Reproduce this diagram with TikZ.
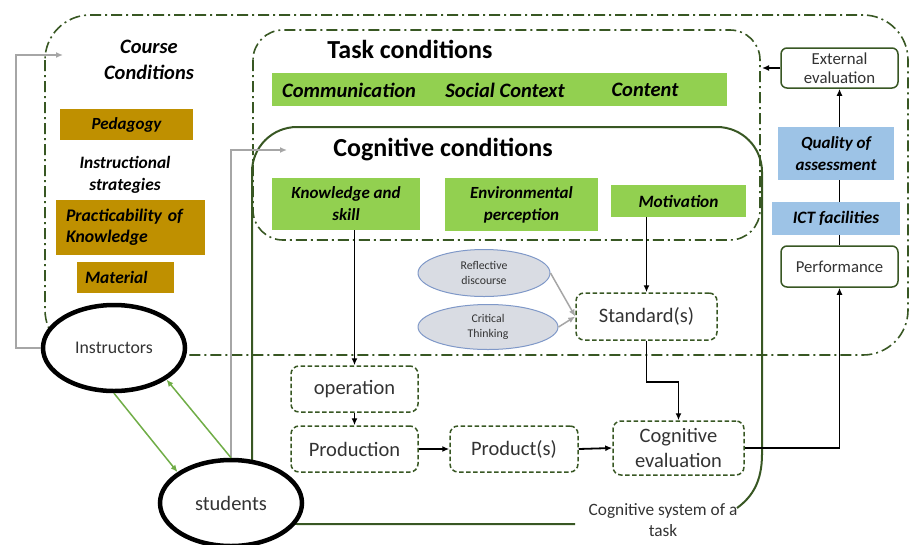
\documentclass[tikz,border=0pt]{standalone}
\usepackage{fontspec}
\setmainfont{Carlito}
\usetikzlibrary{arrows.meta,shapes.geometric,backgrounds}
\definecolor{dkgreen}{HTML}{385723}
\definecolor{goldfill}{HTML}{BF9000}
\definecolor{leafgreen}{HTML}{92D050}
\definecolor{skyblue}{HTML}{9DC3E6}
\definecolor{linkgreen}{HTML}{70AD47}
\definecolor{ovalfill}{HTML}{D9DCE3}
\definecolor{ovalline}{HTML}{7F98C8}
\definecolor{plaintext}{HTML}{333333}
\begin{document}
\begin{tikzpicture}[x=1pt,y=-1pt,
  dashdotline/.style={draw=dkgreen, line width=1.6pt, dash pattern=on 11pt off 4pt on 2pt off 4pt},
  cogline/.style={draw=dkgreen, line width=2pt},
  goldbox/.style={fill=goldfill, inner sep=0pt, font=\bfseries\itshape},
  greenbox/.style={fill=leafgreen, inner sep=0pt, align=center, font=\bfseries\itshape\fontsize{17}{22}\selectfont},
  bluebox/.style={fill=skyblue, inner sep=0pt, align=center, font=\bfseries\itshape},
  evalbox/.style={draw=dkgreen, line width=1.5pt, rounded corners=6pt, fill=white, inner sep=0pt, align=center, text=plaintext},
  stagebox/.style={draw=dkgreen, line width=1.5pt, dashed, dash pattern=on 4.5pt off 2.5pt, rounded corners=8pt, inner sep=0pt, align=center, text=plaintext, font=\fontsize{20.5}{25}\selectfont},
  oval/.style={ellipse, draw=ovalline, line width=1pt, fill=ovalfill, inner sep=0pt, align=center, text=plaintext, font=\fontsize{11.8}{15}\selectfont},
  actor/.style={ellipse, draw=black, line width=4.5pt, fill=white, inner sep=0pt, text=plaintext},
  flow/.style={draw=black, line width=1.8pt, -{Latex[length=7pt,width=6pt]}},
  grayflow/.style={draw=black!35, line width=1.5pt, -{Latex[length=7pt,width=6pt]}},
  linkflow/.style={draw=linkgreen, line width=1.5pt, -{Latex[length=7pt,width=6pt]}}
]
\useasboundingbox (0,0) rectangle (912,544);

% containers
\draw[dashdotline, rounded corners=45pt] (45,15) rectangle (908,355);
\draw[dashdotline, rounded corners=30pt] (253,30) rectangle (760,240);
\draw[cogline, rounded corners=45pt] (575,524) -- (252,524) -- (252,127) -- (762,127) -- (762,455);
\draw[cogline] (762,454) .. controls (762,482) and (752,497) .. (737,508);

% course conditions
\node[font=\bfseries\itshape\fontsize{20.5}{26}\selectfont, align=center] (coursettl) at (149,60) {Course\\Conditions};
\node[goldbox, minimum width=133pt, minimum height=31pt, font=\bfseries\itshape\fontsize{17}{20}\selectfont] (peda) at (126.5,124.5) {Pedagogy};
\node[font=\bfseries\itshape\fontsize{17.4}{22}\selectfont, align=center] (instrat) at (125,175) {Instructional\\strategies};
\node[goldbox, minimum width=149pt, minimum height=55pt, text width=129pt, align=left, font=\bfseries\itshape\fontsize{17.7}{21}\selectfont] (pract) at (130.5,227.5) {Practicability of\\Knowledge};
\node[goldbox, minimum width=97pt, minimum height=31pt, text width=81pt, align=left, font=\bfseries\itshape\fontsize{17.4}{20}\selectfont] (mater) at (125.5,277.5) {Material};

% task conditions
\node[font=\bfseries\fontsize{26}{30}\selectfont] (taskttl) at (410,49) {Task conditions};
\node[fill=leafgreen, minimum width=455pt, minimum height=33pt, inner sep=0pt] (taskbar) at (499.5,89.5) {};
\node[font=\bfseries\itshape\fontsize{20.5}{24}\selectfont] (comm) at (349,90) {Communication};
\node[font=\bfseries\itshape\fontsize{20.5}{24}\selectfont] (social) at (505,90) {Social Context};
\node[font=\bfseries\itshape\fontsize{20.5}{24}\selectfont] (content) at (645,90) {Content};

% cognitive conditions
\node[font=\bfseries\fontsize{26}{30}\selectfont] (cogttl) at (443,150) {Cognitive conditions};
\node[greenbox, minimum width=148pt, minimum height=52pt] (know) at (346,204) {Knowledge and\\skill};
\node[greenbox, minimum width=153pt, minimum height=53pt] (envir) at (521.5,204.5) {Environmental\\perception};
\node[greenbox, minimum width=135pt, minimum height=32pt, font=\bfseries\itshape\fontsize{17.3}{22}\selectfont] (motiv) at (678.5,201) {Motivation};

% external assessment column
\node[evalbox, minimum width=117pt, minimum height=40pt, font=\fontsize{16.8}{19}\selectfont] (ext) at (839.5,68) {External\\evaluation};
\node[bluebox, minimum width=116pt, minimum height=53pt, font=\bfseries\itshape\fontsize{17}{22}\selectfont] (quality) at (836,153.5) {Quality of\\assessment};
\node[bluebox, minimum width=128pt, minimum height=33pt, font=\bfseries\itshape\fontsize{17.4}{20}\selectfont] (ict) at (836,218.5) {ICT facilities};
\node[evalbox, minimum width=117pt, minimum height=41pt, font=\fontsize{16.7}{19}\selectfont] (perf) at (839.5,266.5) {Performance};
\coordinate (taskedge) at (762,68);

% cognitive process
\node[oval, minimum width=132pt, minimum height=47pt] (refl) at (484,273) {Reflective\\discourse};
\node[oval, minimum width=140pt, minimum height=45pt] (crit) at (488,327) {Critical\\Thinking};
\node[stagebox, minimum width=141pt, minimum height=47pt] (stand) at (646.5,316.5) {Standard(s)};
\node[stagebox, minimum width=127pt, minimum height=46pt] (oper) at (354.5,389) {operation};
\node[stagebox, minimum width=127pt, minimum height=46pt] (prod) at (354.5,449) {Production};
\node[stagebox, minimum width=128pt, minimum height=46pt] (prodt) at (514,449) {Product(s)};
\node[stagebox, minimum width=131pt, minimum height=54pt] (cogeval) at (678.5,448) {Cognitive\\evaluation};
\node[font=\fontsize{17.3}{21}\selectfont, align=center, text=plaintext] (cogsys) at (663,520.5) {Cognitive system of a\\task};

% actors
\node[actor, minimum width=142pt, minimum height=86pt, font=\fontsize{17.8}{20}\selectfont] (instr) at (114,348) {Instructors};
\node[actor, minimum width=142pt, minimum height=86pt, font=\fontsize{20.5}{24}\selectfont] (stud) at (231,503) {students};
\coordinate (coursein) at (63,55);
\coordinate (cogin) at (287,150);

% connectors
\begin{scope}[on background layer]
  \draw[flow] (perf.north) -- (ext.south);
\end{scope}
\draw[flow] (ext.west) -- (taskedge);
\draw[flow] (cogeval.east) -| (perf.south);
\draw[flow] (oper.north |- know.south) -- (oper.north);
\draw[flow] (stand.north |- motiv.south) -- (stand.north);
\draw[flow] (oper.south) -- (prod.north);
\draw[flow] (prod.east) -- (prodt.west);
\draw[flow] (prodt.east) -- (cogeval.west);
\draw[flow] (stand.south) -- ++(0,41) -| (cogeval.north);
\draw[grayflow] (refl.east) -- (stand.west);
\draw[grayflow] (crit.east) -- (stand.west);
\draw[grayflow] (instr.west) -- ++(-25,0) |- (coursein);
\draw[grayflow] (stud.north) |- (cogin);
\draw[linkflow] (instr.south) -- (stud.150);
\draw[linkflow] (stud.north) -- (instr.-31);
\end{tikzpicture}
\end{document}
